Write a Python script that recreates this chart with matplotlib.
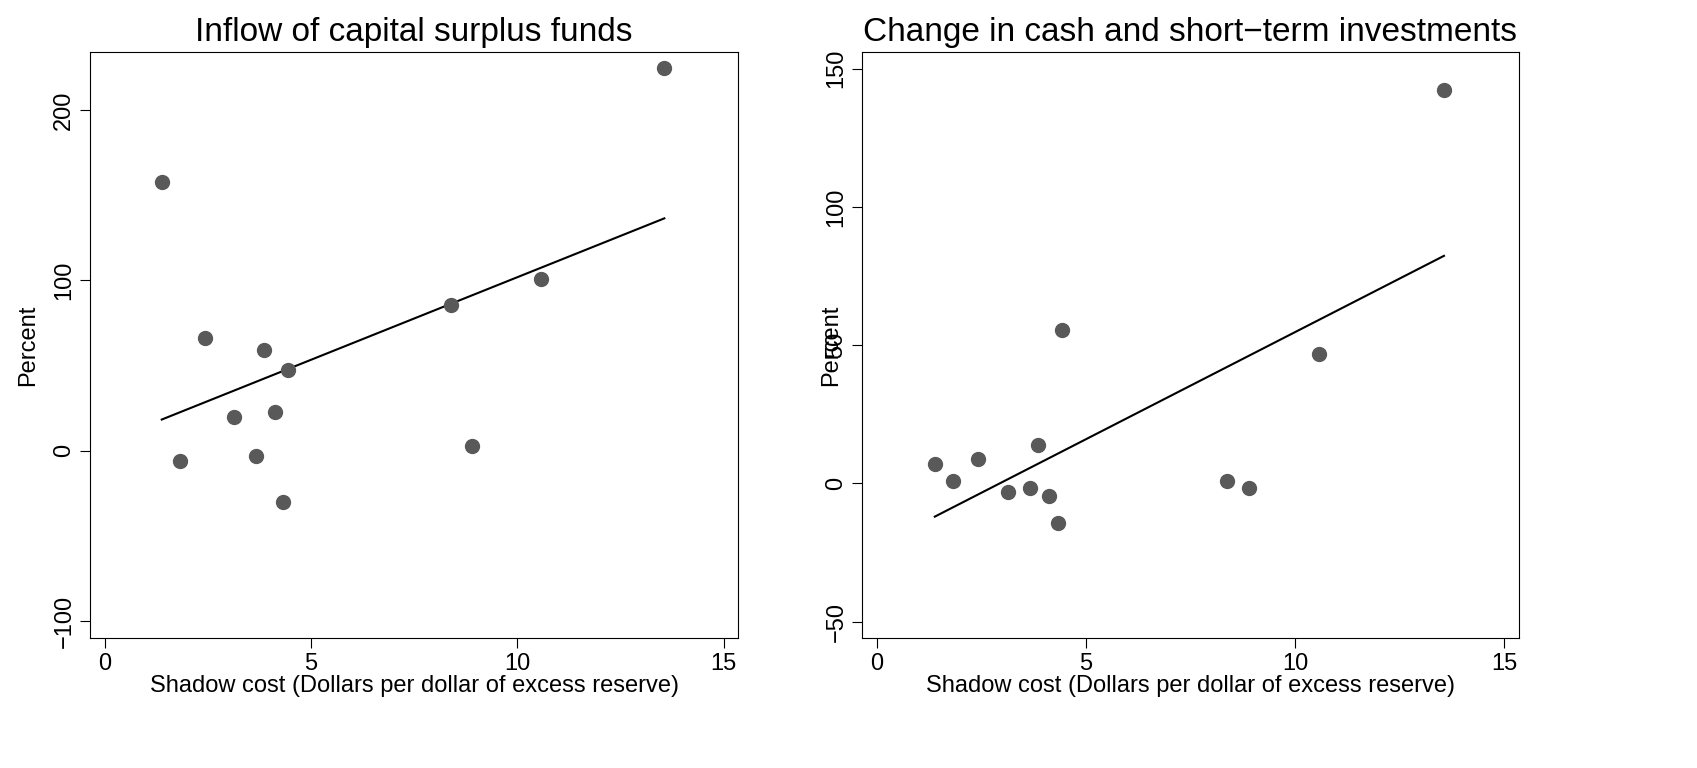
import numpy as np
import matplotlib.pyplot as plt

plt.rcParams['font.family'] = ['Liberation Sans', 'DejaVu Sans']

shadow_cost = [1.38, 1.82, 2.42, 3.12, 3.66, 3.85, 4.12, 4.33, 4.43, 8.38, 8.9, 10.56, 13.56]
surplus_inflow = [158, -6, 66, 20, -3, 59, 23, -30, 47.5, 85.6, 3, 101, 224.6]
cash_change = [7.2, 1, 9, -3, -1.5, 14, -4.7, -14.5, 55.4, 0.7, -1.8, 47, 142.4]

titles = ['Inflow of capital surplus funds', 'Change in cash and short\u2212term investments']
ylims = [(-110, 234), (-56, 156)]
yticks = [[-100, 0, 100, 200], [-50, 0, 50, 100, 150]]
ylabelpads = [10, -12]

fig = plt.figure(figsize=(16.97, 7.68), dpi=100)
axes = [fig.add_axes([0.053, 0.169, 0.382, 0.763]),
        fig.add_axes([0.508, 0.169, 0.387, 0.763])]

x = np.array(shadow_cost)
for ax, yv, title, yl, yt, pad in zip(axes, [surplus_inflow, cash_change], titles, ylims, yticks, ylabelpads):
    y = np.array(yv)
    ax.scatter(x, y, s=100, color='#595959', zorder=3)
    b, a = np.polyfit(x, y, 1)
    xs = np.array([x.min(), x.max()])
    ax.plot(xs, a + b * xs, color='black', lw=1.5)
    ax.set_xlim(-0.36, 15.35)
    ax.set_ylim(*yl)
    ax.set_xticks([0, 5, 10, 15])
    ax.set_yticks(yt)
    ax.set_yticklabels([str(v).replace('-', '\u2212') for v in yt], rotation=90, va='center')
    ax.tick_params(labelsize=17, length=7)
    ax.set_title(title, fontsize=24, pad=8)
    ax.set_xlabel('Shadow cost (Dollars per dollar of excess reserve)', fontsize=17, labelpad=0)
    ax.set_ylabel('Percent', fontsize=17, labelpad=pad)

fig.savefig('out.png', dpi=100)
